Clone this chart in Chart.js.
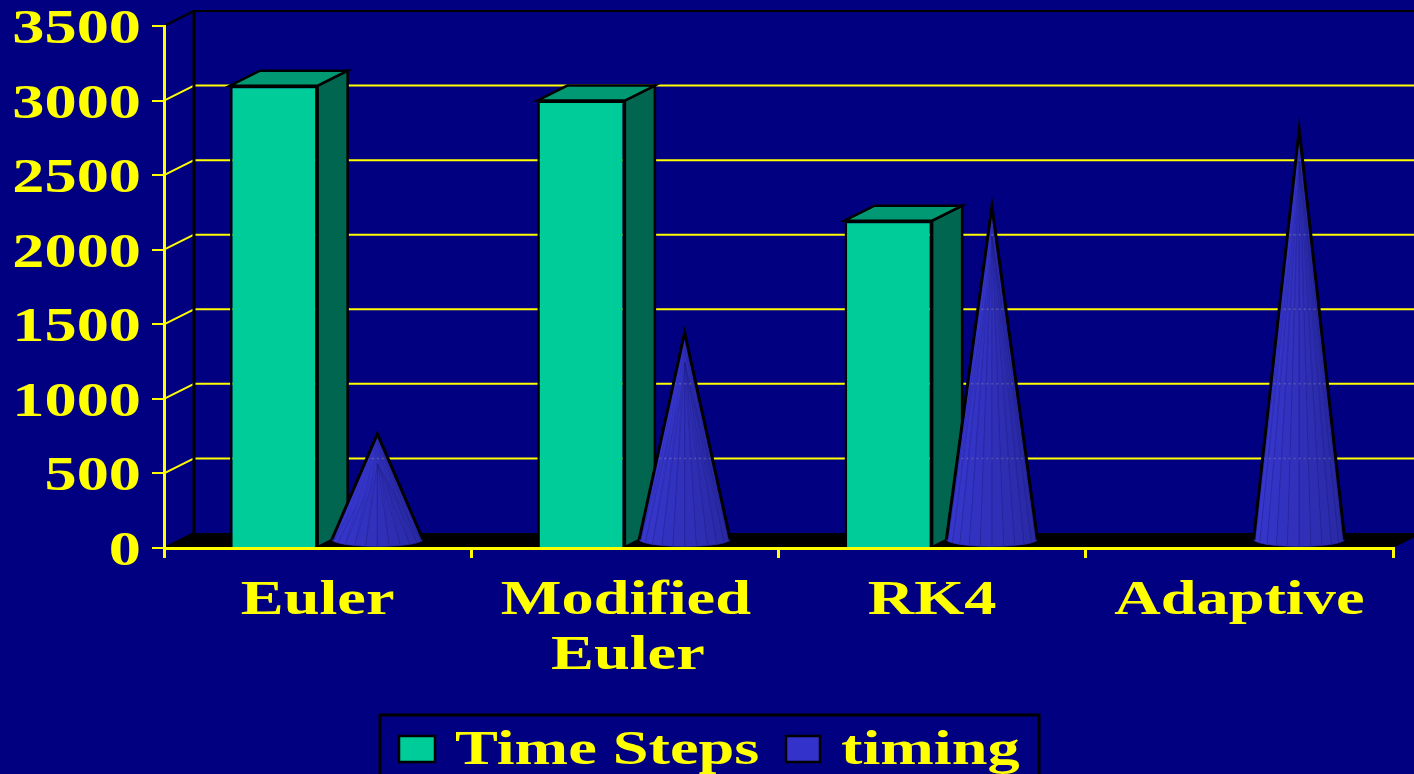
<!DOCTYPE html>
<html>
<head>
<meta charset="utf-8">
<title>Time Steps and timing</title>
<script src="https://cdn.jsdelivr.net/npm/chart.js@4"></script>
<style>
  html, body { margin: 0; padding: 0; background: #000080; overflow: hidden; }
  canvas { display: block; }
</style>
</head>
<body>
<canvas id="chart" width="1414" height="774"></canvas>
<script>
// Values per integration method
const categories = [["Euler"], ["Modified", "Euler"], ["RK4"], ["Adaptive"]];
const timeSteps = [3100, 3000, 2195, null];
const timing = [715, 1395, 2240, 2755];
const seriesNames = ["Time Steps", "timing"];

const YELLOW = "#FFFF00";
const BLACK = "#000000";
const FONT = "bold 48px 'Liberation Serif', 'Times New Roman', serif";
const WIDEN = 1.34;      // horizontal stretch of all lettering
const DEPTH_X = 30;      // oblique depth of the 3D box
const DEPTH_Y = 15;

function wideText(ctx, text, x, y, align) {
  ctx.save();
  ctx.font = FONT;
  ctx.fillStyle = YELLOW;
  ctx.textAlign = align;
  ctx.textBaseline = "alphabetic";
  ctx.translate(x, y);
  ctx.scale(WIDEN, 1);
  ctx.fillText(text, 0, 0);
  ctx.restore();
}

function poly(ctx, pts, fill, stroke, width) {
  ctx.beginPath();
  pts.forEach((p, i) => i ? ctx.lineTo(p[0], p[1]) : ctx.moveTo(p[0], p[1]));
  ctx.closePath();
  if (fill) { ctx.fillStyle = fill; ctx.fill(); }
  if (stroke) { ctx.strokeStyle = stroke; ctx.lineWidth = width; ctx.lineJoin = "miter"; ctx.stroke(); }
}

function segment(ctx, x1, y1, x2, y2, color, width) {
  ctx.beginPath();
  ctx.moveTo(x1, y1);
  ctx.lineTo(x2, y2);
  ctx.strokeStyle = color;
  ctx.lineWidth = width;
  ctx.stroke();
}

// Floor, back wall and depth-offset gridlines
function drawRoom(chart) {
  const { ctx, chartArea: a, scales: { y } } = chart;
  const width = chart.width;
  ctx.save();
  poly(ctx, [[a.left, a.bottom], [a.left + DEPTH_X, a.bottom - DEPTH_Y],
             [a.right + DEPTH_X, a.bottom - DEPTH_Y], [a.right, a.bottom]], BLACK);
  y.ticks.forEach(t => {
    const py = y.getPixelForValue(t.value);
    const atFloor = t.value === y.min, atTop = t.value === y.max;
    const color = atFloor || atTop ? BLACK : YELLOW;
    segment(ctx, a.left, py, a.left + DEPTH_X, py - DEPTH_Y, color, 2);
    if (!atFloor) segment(ctx, a.left + DEPTH_X, py - DEPTH_Y, width, py - DEPTH_Y, color, 2);
  });
  const wallX = a.left + DEPTH_X;
  segment(ctx, wallX, y.getPixelForValue(y.max) - DEPTH_Y - 1, wallX, a.bottom - DEPTH_Y, BLACK, 3);
  ctx.restore();
}

// Side and top faces behind each bar's front face
function drawBarDepth(chart) {
  const { ctx } = chart;
  ctx.save();
  chart.getDatasetMeta(0).data.forEach((bar, i) => {
    if (timeSteps[i] == null) return;
    const l = bar.x - bar.width / 2, r = bar.x + bar.width / 2, t = bar.y, b = bar.base;
    poly(ctx, [[r, t], [r + DEPTH_X, t - DEPTH_Y], [r + DEPTH_X, b - DEPTH_Y], [r, b]], "#006650", BLACK, 2.5);
    poly(ctx, [[l, t], [l + DEPTH_X, t - DEPTH_Y], [r + DEPTH_X, t - DEPTH_Y], [r, t]], "#009973", BLACK, 2.5);
  });
  ctx.restore();
}

function mixColor(f) {
  const r = Math.round(56 - 16 * f), b = Math.round(210 - 50 * f);
  return "rgb(" + r + "," + r + "," + b + ")";
}

// Faceted cones, placed mid-depth and sized from the second series' bars
function drawCones(chart) {
  const { ctx, scales: { y } } = chart;
  const FACETS = 12;
  ctx.save();
  chart.getDatasetMeta(1).data.forEach(bar => {
    const cx = bar.x + DEPTH_X / 2 + 1;
    const tipY = bar.y - DEPTH_Y / 2;
    const baseY = bar.base - DEPTH_Y / 2;
    const rx = bar.width * 0.52, ry = 7;

    const rim = k => {
      const ang = Math.PI - Math.PI * k / FACETS;
      return [cx + rx * Math.cos(ang), baseY + ry * Math.sin(ang)];
    };

    for (let k = 0; k < FACETS; k++) {
      const c = mixColor(k / (FACETS - 1));
      const p0 = rim(k), p1 = rim(k + 1);
      poly(ctx, [[cx, tipY], p0, p1], c, c, 0.5);
      if (k > 0) segment(ctx, cx, tipY + 30, p0[0], p0[1], "rgba(25,25,120,0.3)", 1);
    }

    // Faint trace of the gridlines where they pass behind the cone
    ctx.save();
    ctx.beginPath();
    ctx.moveTo(cx, tipY);
    ctx.lineTo(cx - rx, baseY);
    ctx.lineTo(cx + rx, baseY);
    ctx.closePath();
    ctx.clip();
    ctx.setLineDash([2, 3]);
    y.ticks.forEach(t => {
      if (t.value === y.min) return;
      const py = y.getPixelForValue(t.value) - DEPTH_Y;
      segment(ctx, cx - rx, py, cx + rx, py, "rgba(190,190,170,0.25)", 1.5);
    });
    ctx.restore();

    ctx.beginPath();
    ctx.moveTo(cx - rx, baseY);
    ctx.lineTo(cx, tipY);
    ctx.lineTo(cx + rx, baseY);
    ctx.strokeStyle = BLACK;
    ctx.lineWidth = 3;
    ctx.lineJoin = "miter";
    ctx.stroke();
  });
  ctx.restore();
}

function drawAxisText(chart) {
  const { ctx, scales: { x, y } } = chart;
  y.ticks.forEach(t => {
    wideText(ctx, String(t.value), 141, y.getPixelForValue(t.value) + 17, "right");
  });
  categories.forEach((lines, i) => {
    lines.forEach((line, j) => {
      wideText(ctx, line, x.getPixelForValue(i) + (j === 0 && i === 1 ? 1 : 0) + (j === 1 ? 3 : 0), 614 + j * 55, "center");
    });
  });
}

function drawKey(chart) {
  const { ctx } = chart;
  ctx.save();
  ctx.strokeStyle = BLACK;
  ctx.lineWidth = 3;
  ctx.strokeRect(380, 715, 659, 80);
  poly(ctx, [[399, 736], [435, 736], [435, 762], [399, 762]], "#00CC99", BLACK, 2.5);
  poly(ctx, [[786, 736], [820, 736], [820, 762], [786, 762]], "#3333CC", BLACK, 2.5);
  ctx.restore();
  wideText(ctx, seriesNames[0], 455, 764, "left");
  wideText(ctx, seriesNames[1], 841, 764, "left");
}

const scenery = {
  id: "scenery",
  beforeDatasetsDraw(chart) { drawRoom(chart); drawBarDepth(chart); },
  afterDatasetsDraw(chart) { drawCones(chart); },
  afterDraw(chart) { drawAxisText(chart); drawKey(chart); }
};

new Chart(document.getElementById("chart"), {
  type: "bar",
  data: {
    labels: categories,
    datasets: [
      { label: seriesNames[0], data: timeSteps, backgroundColor: "#00CC99", borderColor: BLACK, borderWidth: 2.5 },
      { label: seriesNames[1], data: timing, backgroundColor: "rgba(0,0,0,0)", borderWidth: 0 }
    ]
  },
  options: {
    responsive: false,
    animation: false,
    events: [],
    layout: { padding: { top: 26, right: 21, left: 0, bottom: 0 } },
    categoryPercentage: 0.57,
    barPercentage: 1,
    plugins: { legend: { display: false }, tooltip: { enabled: false }, title: { display: false } },
    scales: {
      x: {
        grid: { color: YELLOW, lineWidth: 3, drawOnChartArea: false, tickLength: 10, z: 1 },
        border: { color: YELLOW, width: 3, z: 1 },
        ticks: { display: false },
        afterFit(s) { s.height = 226; }
      },
      y: {
        min: 0,
        max: 3500,
        grid: { color: YELLOW, lineWidth: 2, drawOnChartArea: false, tickLength: 12, z: 1 },
        border: { color: YELLOW, width: 3, z: 1 },
        ticks: { display: false, stepSize: 500 },
        afterFit(s) { s.width = 164; }
      }
    }
  },
  plugins: [scenery]
});
</script>
</body>
</html>
